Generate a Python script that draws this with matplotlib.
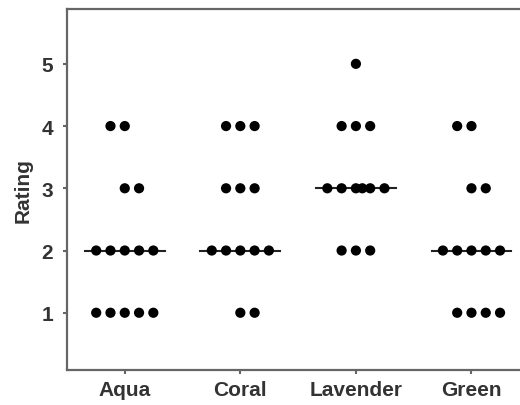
import numpy as np
import matplotlib
matplotlib.use('Agg')
import matplotlib.pyplot as plt

plt.rcParams['font.family'] = ['Liberation Sans', 'DejaVu Sans']

# rating data per colour group
groups = ['Aqua', 'Coral', 'Lavender', 'Green']
aqua = [1, 1, 1, 1, 1, 2, 2, 2, 2, 2, 3, 3, 4, 4]
coral = [1, 1, 2, 2, 2, 2, 2, 3, 3, 3, 4, 4, 4]
lavender = [2, 2, 2, 3, 3, 3, 3, 3, 3, 4, 4, 4, 5]
green = [1, 1, 1, 1, 2, 2, 2, 2, 2, 3, 3, 4, 4]
ratings = [aqua, coral, lavender, green]

# layout of the dot rows (slot offsets in dot widths)
step = 0.1236
left_rows = {(0, 4), (3, 4)}   # even rows pushed to the left


def slots(n, gi, r):
    if gi == 2 and n == 6:
        return np.array([-2, -1, 0, 0.45, 1, 2])
    base = np.arange(n) - (n - 1) / 2
    if n % 2 == 0:
        base = base + (-0.5 if (gi, r) in left_rows else 0.5)
    return base


fig = plt.figure(figsize=(5.2, 4.06), dpi=100)
ax = fig.add_axes([0.1288, 0.0862, 0.889, 0.889])

txt = '#333333'
fs = 15
for gi, vals in enumerate(ratings):
    vals = np.array(vals)
    for r in np.unique(vals):
        n = (vals == r).sum()
        xs = gi + 1 + slots(n, gi, r) * step
        ax.scatter(xs, np.full(n, r), s=54, color='black', edgecolors='none', zorder=3)
    med = np.median(vals)
    ax.plot([gi + 1 - 0.345, gi + 1 + 0.345], [med, med], color='#222222', lw=1.5, zorder=2)

ax.set_xlim(0.5, 4.5)
ax.set_ylim(0.08, 5.88)
ax.set_xticks(range(1, 5))
ax.set_xticklabels(groups)
ax.set_yticks(range(1, 6))
ax.set_ylabel('Rating', fontsize=fs, fontweight='bold', color=txt, labelpad=6)

ax.spines['right'].set_visible(False)
for s in ['left', 'bottom', 'top']:
    ax.spines[s].set_color('#666666')
    ax.spines[s].set_linewidth(1.6)
ax.tick_params(direction='out', length=3, width=1.5, color='#666666')
ax.tick_params(axis='x', pad=4)
ax.tick_params(axis='y', pad=7)
for lab in ax.get_xticklabels() + ax.get_yticklabels():
    lab.set_fontsize(fs)
    lab.set_fontweight('bold')
    lab.set_color(txt)

fig.savefig('out.png', dpi=100)
